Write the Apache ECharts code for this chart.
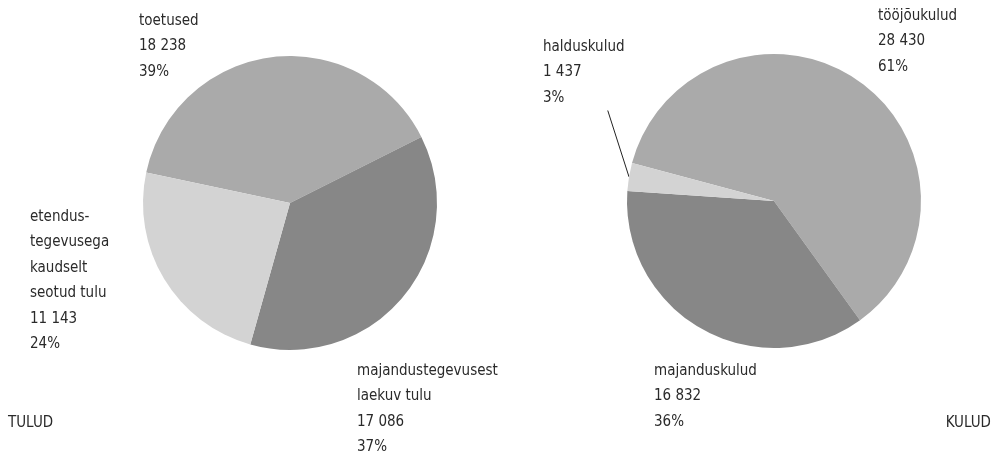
<!DOCTYPE html>
<html>
<head>
<meta charset="utf-8">
<script src="https://cdn.jsdelivr.net/npm/echarts@6/dist/echarts.min.js"></script>
<style>
html,body{margin:0;padding:0;background:#fff;}
#main{width:996px;height:452px;}
</style>
</head>
<body>
<div id="main"></div>
<script>
// tulud (income)
var tuludNames=['toetused','majandustegevusest\nlaekuv tulu','etendus-\ntegevusega\nkaudselt\nseotud tulu'];
var tuludValues=[18238,17086,11143];
// kulud (expenses)
var kuludNames=['tööjõukulud','majanduskulud','halduskulud'];
var kuludValues=[28430,16832,1437];

var colors=['#aaaaaa','#878787','#d3d3d3'];
var font="'Liberation Sans Narrow','DejaVu Sans Condensed',sans-serif";

function fmtNum(v){
    return String(v).replace(/\B(?=(\d{3})+(?!\d))/g,' ');
}
function makeData(names,values){
    return names.map(function(n,i){
        return {name:n,value:values[i],itemStyle:{color:colors[i]}};
    });
}

// label top-left positions
var tuludPos=[[139,8],[357,358],[30,204]];
var kuludPos=[[878,3],[654,358],[543,34]];

var labelStyle={
    show:true,
    color:'#2a2a2a',
    fontFamily:font,
    fontSize:15,
    lineHeight:25.5,
    formatter:function(p){
        return p.name+'\n'+fmtNum(p.value)+'\n'+Math.round(p.percent)+'%';
    }
};

var Myecharts=echarts.init(document.getElementById('main'));
var option={
    animation:false,
    title:[{
        text:'TULUD',left:8,top:416,padding:0,
        textStyle:{fontFamily:font,fontSize:15,fontWeight:'normal',color:'#2a2a2a'}
    },{
        text:'KULUD',right:5,top:416,padding:0,
        textStyle:{fontFamily:font,fontSize:15,fontWeight:'normal',color:'#2a2a2a'}
    }],
    series:[{
        type:'pie',
        center:[290,203],
        radius:147,
        startAngle:168,
        clockwise:true,
        data:makeData(tuludNames,tuludValues),
        label:labelStyle,
        labelLine:{show:false},
        labelLayout:function(p){
            return {x:tuludPos[p.dataIndex][0],y:tuludPos[p.dataIndex][1],align:'left',verticalAlign:'top'};
        }
    },{
        type:'pie',
        center:[774,201],
        radius:147,
        startAngle:165,
        clockwise:true,
        data:makeData(kuludNames,kuludValues).map(function(d,i){
            d.labelLine={show:i===2,lineStyle:{color:'#222',width:1}};
            if(i===2){ d.label={padding:[0,48,0,0]}; }
            return d;
        }),
        label:labelStyle,
        labelLine:{show:true,length:0,length2:0,smooth:false},
        labelLayout:function(p){
            return {x:kuludPos[p.dataIndex][0],y:kuludPos[p.dataIndex][1],align:'left',verticalAlign:'top'};
        }
    }]
};
Myecharts.setOption(option);
</script>
</body>
</html>
